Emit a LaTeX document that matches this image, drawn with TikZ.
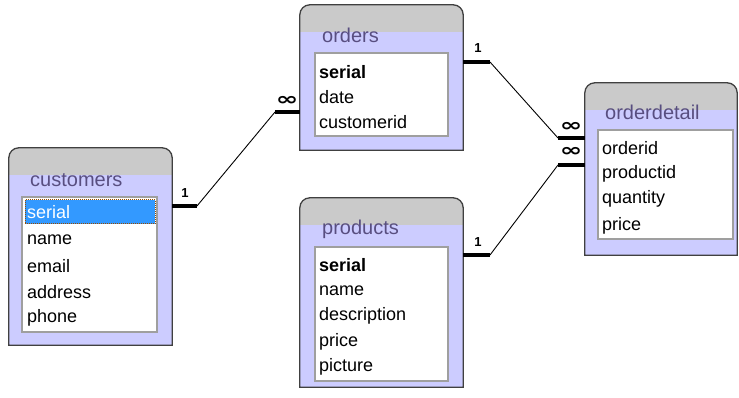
\documentclass[tikz,border=0pt]{standalone}
\usepackage{fontspec}
\setmainfont{Liberation Sans}
\newfontfamily\symfont{DejaVu Sans}
\usetikzlibrary{positioning}

\definecolor{lavender}{RGB}{204,204,255}
\definecolor{hdrgray}{RGB}{202,202,202}
\definecolor{framegray}{RGB}{64,64,64}
\definecolor{titlecol}{RGB}{88,78,128}
\definecolor{selblue}{RGB}{51,153,255}

\begin{document}
\begin{tikzpicture}[x=1pt,y=-1pt,
    tbl/.style={inner sep=0pt,minimum width=#1},
    listbox/.style={draw=gray!75,line width=1.6pt,fill=white,inner sep=0pt},
    title/.style={anchor=west,inner sep=0pt,text=titlecol,font=\fontsize{20}{22}\selectfont},
    row/.style={anchor=west,inner sep=0pt,font=\fontsize{18}{20}\selectfont},
    stub/.style={line width=3.8pt},
    link/.style={line width=0.9pt},
    one/.style={inner sep=0pt,font=\bfseries\fontsize{13}{13}\selectfont},
    many/.style={inner sep=0pt,font=\symfont\bfseries\fontsize{18}{18}\selectfont}]
    \useasboundingbox (0,0) rectangle (739,398);

    % tables
    \node[tbl=163pt,minimum height=197pt] (cust) at (90.5,246.5) {};
    \node[tbl=163pt,minimum height=145pt] (ord) at (381.5,77.5) {};
    \node[tbl=163pt,minimum height=189pt] (prod) at (381.5,292.5) {};
    \node[tbl=152pt,minimum height=172pt] (odet) at (661,169) {};

    \foreach \t in {cust,ord,prod,odet} {
        \begin{scope}
            \clip (\t.south west) -- ([yshift=-10pt]\t.north west) arc[start angle=180,end angle=90,radius=10pt]
                -- ([xshift=-10pt]\t.north east) arc[start angle=90,end angle=0,radius=10pt] -- (\t.south east) -- cycle;
            \fill[lavender] (\t.south west) rectangle (\t.north east);
            \fill[hdrgray] (\t.north west) rectangle ([yshift=-27pt]\t.north east);
        \end{scope}
        \draw[framegray,line width=1.3pt] (\t.south west) -- ([yshift=-10pt]\t.north west) arc[start angle=180,end angle=90,radius=10pt]
            -- ([xshift=-10pt]\t.north east) arc[start angle=90,end angle=0,radius=10pt] -- (\t.south east) -- cycle;
    }

    \node[title] (cust-t) at (30,180) {customers};
    \node[title] (ord-t) at (322,35) {orders};
    \node[title] (prod-t) at (322,229) {products};
    \node[title] (odet-t) at (605,112) {orderdetail};

    % field lists
    \node[listbox,minimum width=135pt,minimum height=135pt] (cust-l) at (89.5,264.5) {};
    \node[listbox,minimum width=133pt,minimum height=83pt] (ord-l) at (381.5,94.5) {};
    \node[listbox,minimum width=133pt,minimum height=134pt] (prod-l) at (381.5,314) {};
    \node[listbox,minimum width=135pt,minimum height=109pt] (odet-l) at (665.5,184.5) {};

    \fill[selblue] (25,200) rectangle (155,224);
    \draw[orange!60!black,densely dotted,line width=1pt] (25,200) rectangle (155,224);
    \node[row,text=white] (cust-serial) at (27,212) {serial};
    \node[row] (cust-name) at (27,240) {name};
    \node[row] (cust-email) at (27,266) {email};
    \node[row] (cust-address) at (27,292) {address};
    \node[row] (cust-phone) at (27,318) {phone};

    \node[row,font=\bfseries\fontsize{18}{20}\selectfont] (ord-serial) at (319,72) {serial};
    \node[row] (ord-date) at (319,97) {date};
    \node[row] (ord-customerid) at (319,122) {customerid};

    \node[row,font=\bfseries\fontsize{18}{20}\selectfont] (prod-serial) at (319,265) {serial};
    \node[row] (prod-name) at (319,291) {name};
    \node[row] (prod-description) at (319,316) {description};
    \node[row] (prod-price) at (319,342) {price};
    \node[row] (prod-picture) at (319,367) {picture};

    \node[row] (odet-orderid) at (602,148) {orderid};
    \node[row] (odet-productid) at (602,174) {productid};
    \node[row] (odet-quantity) at (602,199) {quantity};
    \node[row] (odet-price) at (602,226) {price};

    % relationships
    \coordinate (cs) at (197,206);
    \coordinate (ol) at (275,112);
    \coordinate (or) at (490,62);
    \coordinate (du) at (558,138);
    \coordinate (dl) at (558,165);
    \coordinate (pr) at (490,255);

    \draw[stub] (cust.east |- cs) -- (cs);
    \draw[stub] (ol) -- (ord.west |- ol);
    \draw[stub] (ord.east |- or) -- (or);
    \draw[stub] (du) -- (odet.west |- du);
    \draw[stub] (dl) -- (odet.west |- dl);
    \draw[stub] (prod.east |- pr) -- (pr);

    \draw[link] (cs) -- (ol);
    \draw[link] (or) -- (du);
    \draw[link] (pr) -- (dl);

    \node[one] (cs-1) at (185,193) {1};
    \node[many] (ol-m) at (287,101) {\scalebox{1.5}[1]{∞}};
    \node[one] (or-1) at (478,48) {1};
    \node[many] (du-m) at (571,127) {\scalebox{1.5}[1]{∞}};
    \node[many] (dl-m) at (571,152) {\scalebox{1.5}[1]{∞}};
    \node[one] (pr-1) at (478,242) {1};
\end{tikzpicture}
\end{document}
